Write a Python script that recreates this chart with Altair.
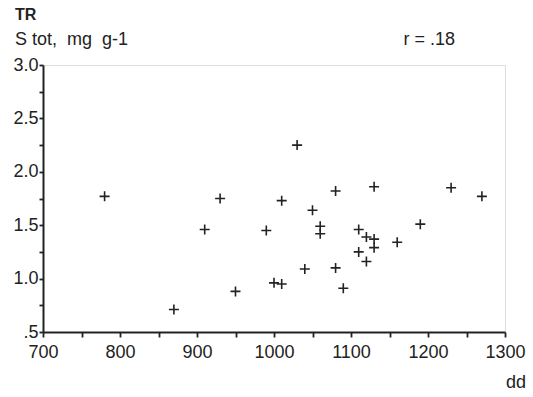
import altair as alt
import pandas as pd

dd = [780, 930, 910, 990, 1030, 1010, 1080, 1130, 1230, 1270,
      1050, 1060, 1060, 1110, 1190, 1120, 1130, 1130, 1160, 1110,
      1120, 1040, 1080, 1000, 1010, 1090, 870, 950]
stot = [1.77, 1.75, 1.46, 1.45, 2.25, 1.73, 1.82, 1.86, 1.85, 1.77,
        1.64, 1.49, 1.42, 1.46, 1.51, 1.39, 1.37, 1.29, 1.34, 1.25,
        1.16, 1.09, 1.10, 0.96, 0.95, 0.91, 0.71, 0.88]

x_ticks = [700, 750, 800, 850, 900, 950, 1000, 1050, 1100, 1150, 1200, 1250, 1300]
y_ticks = [0.5, 0.75, 1.0, 1.25, 1.5, 1.75, 2.0, 2.25, 2.5, 2.75, 3.0]

df = pd.DataFrame({"dd": dd, "stot": stot})

FONT = "Liberation Sans"
W, H = 462, 267

plus = "M-1,0L1,0M0,-1L0,1"

points = alt.Chart(df).mark_point(
    shape=plus, size=100, filled=False, stroke="#222", strokeWidth=1.6, opacity=1
).encode(
    x=alt.X("dd:Q", scale=alt.Scale(domain=[700, 1300], nice=False, zero=False),
            axis=alt.Axis(values=x_ticks, title=None, grid=False,
                          labelExpr="datum.value % 100 == 0 ? datum.value : ''",
                          labelFont=FONT, labelFontSize=18, labelColor="#222",
                          tickSize=5, tickWidth=1.8, tickColor="#222",
                          domainColor="#222", domainWidth=2, labelPadding=6,
                          labelFlush=False, labelOverlap=False)),
    y=alt.Y("stot:Q", scale=alt.Scale(domain=[0.5, 3.0], nice=False, zero=False),
            axis=alt.Axis(values=y_ticks, title=None, grid=False,
                          labelExpr="datum.value == 0.5 ? '.5' : ((datum.value * 2) % 1 == 0 ? format(datum.value, '.1f') : '')",
                          labelFont=FONT, labelFontSize=18, labelColor="#222",
                          tickSize=4, tickWidth=1.8, tickColor="#222",
                          domainColor="#222", domainWidth=2, labelPadding=1,
                          labelFlush=False, labelOverlap=False)),
)

def txt(s, x, y, size=18, bold=False, align="left"):
    return alt.Chart(pd.DataFrame({"t": [s]})).mark_text(
        font=FONT, fontSize=size, fontWeight="bold" if bold else "normal",
        align=align, baseline="alphabetic", color="#222"
    ).encode(text="t:N", x=alt.value(x), y=alt.value(y))

chart = alt.layer(
    points,
    txt("TR", -28, -45, size=16, bold=True),
    txt("S tot,\u00a0 mg\u00a0 g-1", -28, -20),
    txt("r = .18", 412, -20, align="right"),
    txt("dd", 483, 323, align="right"),
).properties(
    width=W, height=H,
    padding={"left": 43, "top": 65, "right": 28, "bottom": 65},
    autosize=alt.AutoSizeParams(type="none"),
).configure_view(stroke="#222", strokeWidth=2).configure(background="white")

chart.save("out.html", embed_options={"renderer": "svg", "actions": False})
